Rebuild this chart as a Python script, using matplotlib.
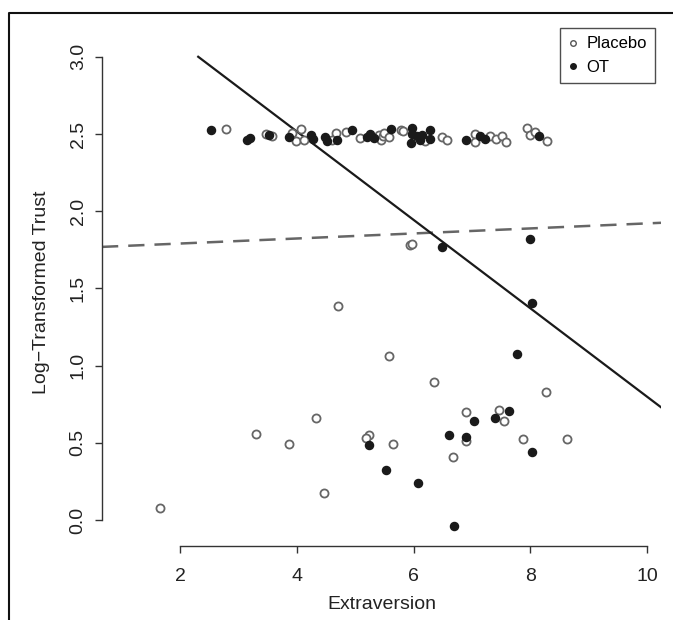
import matplotlib
matplotlib.use("Agg")
import matplotlib.pyplot as plt
from matplotlib.lines import Line2D
import numpy as np

plt.rcParams['font.family'] = ['Liberation Sans', 'DejaVu Sans']

# Placebo (open circles)
placebo_x = [2.78, 3.47, 3.57, 3.92, 4.07, 3.99, 4.13, 4.67, 4.60, 4.85, 5.08, 5.40, 5.45, 5.48,
             5.49, 5.57, 5.78, 5.82, 6.20, 6.48, 6.57, 7.05, 7.05, 7.31, 7.41, 7.51, 7.58,
             7.94, 7.99, 8.08, 8.28,
             1.65, 4.71, 5.57, 6.35, 4.33, 3.30, 3.87, 5.23, 5.18, 5.65, 4.47,
             5.94, 5.97, 6.90, 7.47, 7.55, 8.26, 6.90, 6.67, 7.88, 8.63]
placebo_y = [2.532, 2.502, 2.484, 2.506, 2.532, 2.455, 2.462, 2.506, 2.463, 2.510, 2.475, 2.495, 2.463, 2.484,
             2.506, 2.480, 2.528, 2.517, 2.455, 2.480, 2.463, 2.502, 2.448, 2.489, 2.467, 2.489, 2.445,
             2.538, 2.495, 2.510, 2.455,
             0.078, 1.387, 1.063, 0.892, 0.659, 0.559, 0.493, 0.551, 0.530, 0.490, 0.177,
             1.778, 1.787, 0.700, 0.713, 0.644, 0.828, 0.512, 0.406, 0.527, 0.527]

# OT (filled circles)
ot_x = [2.53, 3.15, 3.20, 3.52, 3.86, 4.24, 4.28, 4.48, 4.52, 4.68, 4.94, 5.20, 5.25, 5.32,
        5.61, 5.97, 5.97, 6.05, 6.14, 5.96, 6.11, 6.28, 6.28, 6.90, 7.14, 7.22, 8.15,
        5.24, 5.53, 6.08, 6.48, 7.99, 8.02, 7.77, 7.64, 7.40, 7.04, 6.61, 6.90, 8.02, 6.70]
ot_y = [2.523, 2.463, 2.471, 2.493, 2.480, 2.495, 2.467, 2.480, 2.455, 2.460, 2.528, 2.480, 2.502, 2.475,
        2.534, 2.538, 2.502, 2.484, 2.495, 2.441, 2.463, 2.523, 2.469, 2.459, 2.489, 2.469, 2.489,
        0.484, 0.326, 0.238, 1.767, 1.819, 1.404, 1.074, 0.709, 0.659, 0.642, 0.549, 0.536, 0.439, -0.039]

# fitted lines (intercept, slope)
ot_fit = (3.662, -0.2864)
placebo_fit = (1.758, 0.0163)

x_ticks = [2, 4, 6, 8, 10]
y_ticks = [0.0, 0.5, 1.0, 1.5, 2.0, 2.5, 3.0]

W, H = 673, 620
fig = plt.figure(figsize=(W / 100, H / 100), dpi=100)
ax = fig.add_axes([102 / W, 1 - 546 / H, (661 - 102) / W, (546 - 39) / H])
xmin, xmax = 0.664, 10.236
ymin, ymax = -0.168, 3.115
ax.set_xlim(xmin, xmax)
ax.set_ylim(ymin, ymax)

ax.scatter(placebo_x, placebo_y, s=34, facecolors='white', edgecolors='#666666', linewidths=1.3, zorder=3)
ax.scatter(ot_x, ot_y, s=34, facecolors='#1a1a1a', edgecolors='#1a1a1a', linewidths=1.0, zorder=4)

xs = np.array([xmin, xmax])
ax.plot(xs, placebo_fit[0] + placebo_fit[1] * xs, color='#666666', lw=1.8,
        dashes=(6.5, 4), zorder=2)
x0 = (3.0 - ot_fit[0]) / ot_fit[1]
xs2 = np.array([x0, xmax])
ax.plot(xs2, ot_fit[0] + ot_fit[1] * xs2, color='#1a1a1a', lw=1.6, zorder=2)

for s in ['top', 'right']:
    ax.spines[s].set_visible(False)
ax.spines['left'].set_bounds(0, 3)
ax.spines['bottom'].set_bounds(2, 10)
for s in ['left', 'bottom']:
    ax.spines[s].set_color('#333333')
    ax.spines[s].set_linewidth(1.0)

ax.set_xticks(x_ticks)
ax.set_xticklabels([str(v) for v in x_ticks])
ax.set_yticks(y_ticks)
ax.set_yticklabels([f"{v:.1f}" for v in y_ticks])
ax.tick_params(axis='both', direction='out', length=5, width=1.0, color='#333333',
               labelsize=14, labelcolor='#222222')
ax.tick_params(axis='x', pad=11)
ax.tick_params(axis='y', pad=6)
plt.setp(ax.get_yticklabels(), rotation=90, va='center')

ax.set_xlabel('Extraversion', fontsize=14, color='#222222', labelpad=8)
ax.set_ylabel('Log\u2212Transformed Trust', fontsize=14, color='#222222', labelpad=14)

handles = [
    Line2D([], [], marker='o', linestyle='none', markersize=4.0, markerfacecolor='white',
           markeredgecolor='#555555', markeredgewidth=1.0),
    Line2D([], [], marker='o', linestyle='none', markersize=4.0, markerfacecolor='#1a1a1a',
           markeredgecolor='#1a1a1a'),
]
leg = ax.legend(handles, ['Placebo', 'OT'], loc='upper right',
                bbox_to_anchor=(655 / W, 1 - 28 / H), bbox_transform=fig.transFigure,
                fancybox=False, frameon=True, edgecolor='#222222', fontsize=12,
                handlelength=0.6, handletextpad=0.5, borderpad=0.5, labelspacing=0.5,
                borderaxespad=0)
leg.get_frame().set_linewidth(1.0)

# outer figure frame (top and left visible)
fig.add_artist(Line2D([9 / W, 9 / W, 1.0], [0.0, 1 - 13 / H, 1 - 13 / H],
                      transform=fig.transFigure, color='#111111', lw=1.5))

fig.savefig('out.png', dpi=100)
